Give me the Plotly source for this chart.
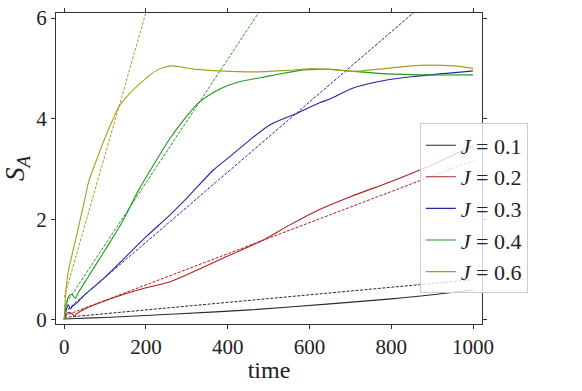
import plotly.graph_objects as go

# simulated entanglement entropy S_A vs time for several couplings J
t_01 = [0, 30, 100, 200, 271, 455, 650, 800, 900, 1000]
s_01 = [0.02, 0.03, 0.05, 0.09, 0.12, 0.2, 0.32, 0.42, 0.5, 0.6]

t_02 = [0, 10, 20, 25, 30, 50, 100, 150, 200, 259, 333, 400, 487, 550, 626, 700, 800, 870, 900, 1000]
s_02 = [0.04, 0.15, 0.12, 0.07, 0.12, 0.22, 0.38, 0.52, 0.64, 0.76, 1.02, 1.27, 1.59, 1.88, 2.2, 2.45, 2.75, 2.98, 3.08, 3.46]

t_03 = [0, 5, 10, 15, 20, 30, 50, 100, 150, 200, 259, 300, 365, 400, 450, 504, 573, 626, 650, 707, 789, 870, 1000]
s_03 = [0.0, 0.2, 0.3, 0.22, 0.27, 0.33, 0.5, 0.85, 1.25, 1.65, 2.09, 2.42, 2.98, 3.21, 3.55, 3.88, 4.12, 4.32, 4.39, 4.61, 4.77, 4.85, 4.95]

t_04 = [0, 5, 10, 15, 20, 27, 35, 59, 100, 141, 182, 220, 259, 295, 328, 381, 422, 504, 585, 626, 650, 707, 789, 870, 1000]
s_04 = [0.0, 0.3, 0.45, 0.5, 0.5, 0.43, 0.55, 0.86, 1.39, 1.93, 2.58, 3.1, 3.61, 4.0, 4.31, 4.59, 4.72, 4.85, 4.97, 4.98, 4.98, 4.94, 4.89, 4.87, 4.87]

t_06 = [0, 3, 7, 12, 18, 28, 39, 50, 60, 80, 100, 120, 137, 160, 182, 200, 222, 245, 263, 290, 324, 381, 463, 544, 601, 650, 707, 789, 870, 951, 1000]
s_06 = [0.0, 0.45, 0.8, 1.05, 1.25, 1.6, 1.99, 2.38, 2.75, 3.2, 3.62, 4.0, 4.28, 4.5, 4.67, 4.8, 4.94, 5.02, 5.05, 5.02, 4.98, 4.95, 4.93, 4.96, 4.99, 4.98, 4.94, 5.0, 5.06, 5.05, 5.0]

# linear fits (dashed), given by their end points
fit_t = [0, 1000]
fit_01 = [0.05, 0.8]
fit_02 = [0.08, 3.17]
fit_03 = [0.15, 7.12]
fit_04 = [0.27, 12.54]
fit_06 = [0.45, 28.75]

labels = ["0.1", "0.2", "0.3", "0.4", "0.6"]
colors = ["#2b2b2b", "#b02020", "#2626aa", "#1f991f", "#a4a01a"]

sims = [(t_01, s_01), (t_02, s_02), (t_03, s_03), (t_04, s_04), (t_06, s_06)]
fits = [fit_01, fit_02, fit_03, fit_04, fit_06]

FONT = "Liberation Serif"

fig = go.Figure()
# dashed fits first so the legend only lists the simulations
for i, ff in enumerate(fits):
    fig.add_trace(go.Scatter(
        x=fit_t, y=ff, mode="lines",
        line=dict(color=colors[i], width=1, dash="3px,1.5px"),
        showlegend=False,
    ))
for i, (tt, ss) in enumerate(sims):
    fig.add_trace(go.Scatter(
        x=tt, y=ss, mode="lines",
        line=dict(color=colors[i], width=1.1, shape="spline", smoothing=0.8),
        name="<i>J</i> = " + labels[i],
    ))

axis_style = dict(
    showline=True, linecolor="#333333", linewidth=1,
    mirror="ticks", ticks="outside", ticklen=4, tickcolor="#333333",
    showgrid=False, zeroline=False, automargin=False,
    tickfont=dict(family=FONT, size=21, color="#222222"),
)

fig.update_xaxes(range=[-20, 1022], tickvals=[0, 200, 400, 600, 800, 1000],
                 title=dict(text="time", font=dict(family=FONT, size=24, color="#222222"), standoff=2),
                 **axis_style)
fig.update_yaxes(range=[-0.08, 6.1], tickvals=[0, 2, 4, 6],
                 title=dict(text="<i>S</i><sub><i>A</i></sub>", font=dict(family=FONT, size=27, color="#222222"), standoff=8),
                 **axis_style)

fig.update_layout(
    width=582, height=391,
    margin=dict(l=56, r=100, t=13, b=67, autoexpand=False),
    plot_bgcolor="white", paper_bgcolor="white",
    legend=dict(
        x=0.854, y=0.645, xanchor="left", yanchor="top",
        bgcolor="rgba(255,255,255,0.8)", bordercolor="#cccccc", borderwidth=1,
        font=dict(family=FONT, size=22, color="#222222"),
    ),
)

# drop the default page margin so the figure sits at the window corner
fig.write_html("out.html", config={"displayModeBar": False},
               post_script="document.body.style.margin='0';")
